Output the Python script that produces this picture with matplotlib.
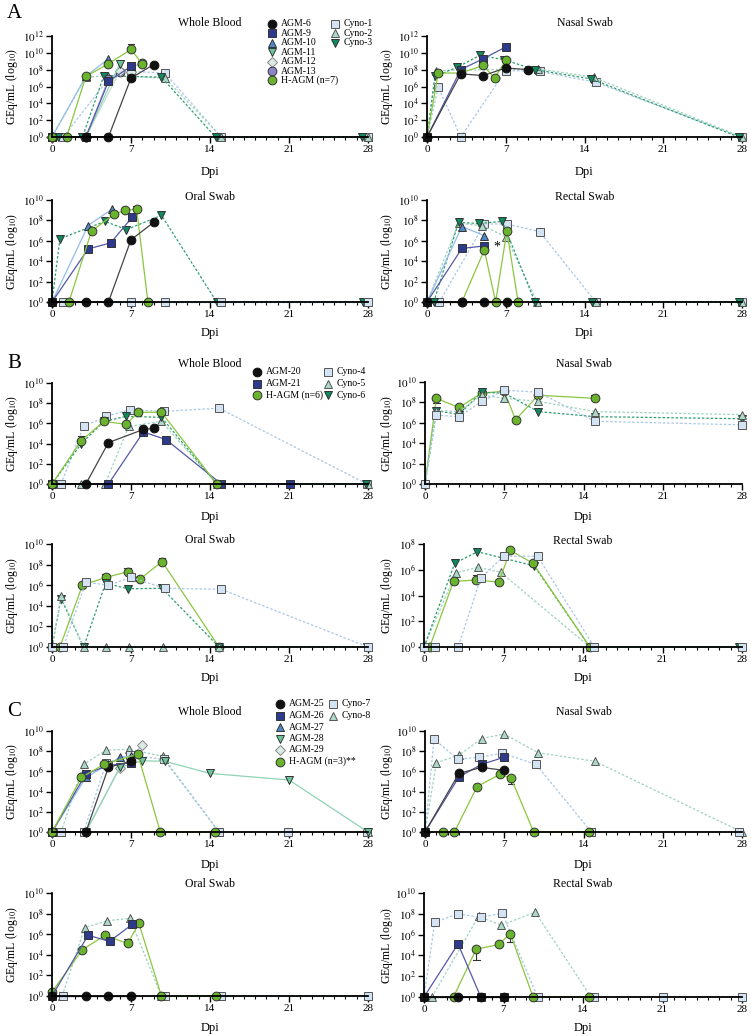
import matplotlib
matplotlib.use('Agg')
import matplotlib.pyplot as plt
from matplotlib.ticker import FixedLocator, MultipleLocator, NullLocator

plt.rcParams['font.family'] = ['Liberation Serif', 'DejaVu Serif']
plt.rcParams['mathtext.fontset'] = 'stix'

W, H = 751, 1036

# days post infection -> log10 GEq/mL (0 = below detection)
A_WB = {
    'Cyno-1': ([1, 5, 7, 10, 15, 28], [0, 6.9, 7.8, 7.6, 0, 0]),
    'Cyno-2': ([0, 3, 5, 7, 10, 15, 28], [0, 7.1, 7.3, 7.2, 7.0, 0, 0]),
    'Cyno-3': ([0.5, 2.7, 4.6, 7, 9.7, 14.5, 27.5], [0, 0, 7.3, 7.2, 7.1, 0, 0]),
    'AGM-13': ([0, 3, 5, 6, 8], [0, 0, 6.9, 7.7, 8.8]),
    'AGM-12': ([0, 3, 6, 7], [0, 0, 7.8, 7.7]),
    'AGM-11': ([0, 3, 6], [0, 0, 8.7]),
    'AGM-10': ([0, 3, 5], [0, 7.2, 9.3]),
    'AGM-9': ([0, 3, 5, 7], [0, 0, 6.6, 8.4]),
    'AGM-6': ([0, 3, 5, 7, 9], [0, 0, 0, 7.0, 8.6]),
    'H-AGM': ([0, 1.3, 3, 5, 7, 8], [0, 0, 7.2, 8.7, 10.4, 8.7]),
}
A_WB_ERR = ([7], [0.6])

A_NS = {
    'Cyno-1': ([0, 1, 3, 7, 10, 15, 28], [0, 5.9, 0, 7.9, 7.8, 6.5, 0]),
    'Cyno-2': ([0, 0.8, 9.9, 14.8, 28], [0, 7.9, 8.1, 7.1, 0]),
    'Cyno-3': ([0, 0.7, 2.7, 4.7, 6.8, 9.6, 14.6, 27.7], [0, 7.2, 8.3, 9.7, 9.2, 8.0, 6.9, 0]),
    'AGM-9': ([0, 3, 5, 7], [0, 8.0, 9.3, 10.7]),
    'H-AGM': ([0, 1, 3, 5, 6, 7], [0, 7.6, 7.6, 8.5, 7.0, 9.1]),
    'AGM-6': ([0, 3, 5, 7, 9], [0, 7.5, 7.3, 8.2, 8.0]),
}
A_NS_ERR = ([], [])

A_OS = {
    'Cyno-2': ([1, 7, 10, 15, 28], [0, 0, 0, 0, 0]),
    'Cyno-3': ([0, 0.7, 4.7, 6.6, 9.7, 14.6, 27.6], [0, 6.2, 7.9, 7.1, 8.5, 0, 0]),
    'Cyno-1': ([1, 7, 10, 15, 28], [0, 0, 0, 0, 0]),
    'AGM-10': ([0, 3.2, 5.3], [0, 7.5, 9.1]),
    'AGM-9': ([0, 3.2, 5.2, 7.1], [0, 5.2, 5.8, 8.3]),
    'H-AGM': ([0, 1.5, 3.5, 5.5, 6.5, 7.5, 8.5], [0, 0, 6.95, 8.6, 9.0, 9.1, 0]),
    'AGM-6': ([0, 3, 5, 7, 9], [0, 0, 0, 6.1, 7.8]),
}
A_OS_ERR = ([7.5], [0.3])

A_RS = {
    'Cyno-1': ([1.1, 5.1, 7.1, 10, 15, 28], [0, 7.65, 7.65, 6.9, 0, 0]),
    'Cyno-2': ([0, 2.8, 4.9, 7, 9.8, 15, 28], [0, 7.7, 7.5, 6.4, 0, 0, 0]),
    'Cyno-3': ([0.6, 2.8, 4.6, 6.7, 9.6, 14.7, 27.7], [0, 7.8, 7.7, 7.9, 0, 0, 0]),
    'AGM-10': ([0, 3.1, 5.1], [0, 7.4, 6.5]),
    'AGM-9': ([0, 3.1, 5.1], [0, 5.25, 5.5]),
    'H-AGM': ([0, 3.1, 5.1, 6.1, 7.1, 8.1], [0, 0, 5.1, 0, 6.95, 0]),
    'AGM-6': ([0, 3.1, 5.1, 7.1], [0, 0, 0, 0]),
}
A_RS_ERR = ([], [])

B_WB = {
    'Cyno-4': ([0.8, 2.8, 4.8, 6.9, 9.9, 14.8, 27.9], [0, 5.7, 6.7, 7.35, 7.2, 7.5, 0]),
    'Cyno-5': ([2.6, 4.7, 6.8, 9.7, 14.6, 28], [0, 0, 5.7, 6.2, 0, 0]),
    'Cyno-6': ([0, 2.6, 4.6, 6.6, 9.7, 14.6, 27.8], [0, 4.0, 6.2, 6.7, 6.6, 0, 0]),
    'AGM-21': ([0, 5, 8.1, 10.1, 15, 21.1], [0, 0, 5.15, 4.4, 0, 0]),
    'AGM-20': ([0, 3, 5, 8.1, 9], [0, 0, 4.1, 5.4, 5.5]),
    'H-AGM': ([0, 2.6, 4.6, 6.6, 7.6, 9.7, 14.6], [0, 4.3, 6.2, 5.9, 7.1, 7.1, 0]),
}
B_WB_ERR = ([2.6], [0.5])

B_NS = {
    'H-AGM': ([0, 1, 3, 5, 7, 8, 10, 15], [0, 8.4, 7.5, 8.9, 9.1, 6.3, 8.7, 8.4]),
    'Cyno-6': ([0, 1, 3, 5, 7, 10, 15, 28], [0, 7.2, 6.8, 9.0, 8.9, 7.1, 6.6, 6.4]),
    'Cyno-5': ([0, 1, 3, 5, 7, 10, 15, 28], [0, 7.2, 7.1, 8.7, 8.4, 8.1, 7.1, 6.8]),
    'Cyno-4': ([0, 1, 3, 5, 7, 10, 15, 28], [0, 6.75, 6.6, 8.1, 9.2, 9.0, 6.15, 5.8]),
}
B_NS_ERR = ([1, 15], [-0.5, 0.3])

B_OS = {
    'H-AGM': ([0, 0.7, 2.7, 4.75, 6.7, 7.8, 9.75, 14.8], [0, 0, 6.0, 6.75, 7.3, 6.6, 8.3, 0]),
    'Cyno-6': ([0, 0.8, 2.8, 4.75, 6.7, 9.75, 14.8, 27.9], [0, 4.7, 0, 6.2, 5.65, 5.7, 0, 0]),
    'Cyno-5': ([0, 0.8, 2.8, 4.8, 6.8, 9.8, 14.8, 28], [0, 4.95, 0, 0, 0, 0, 0, 0]),
    'Cyno-4': ([0, 1, 3, 5, 7, 10, 15, 28], [0, 0, 6.3, 6.0, 6.75, 5.7, 5.6, 0]),
}
B_OS_ERR = ([4.75, 6.7, 9.75], [0.3, 0.4, 0.3])

B_RS = {
    'Cyno-5': ([0, 2.8, 4.75, 6.75, 14.6, 28], [0, 5.75, 6.2, 5.8, 0, 0]),
    'Cyno-6': ([0, 2.7, 4.7, 9.7, 14.6, 27.7], [0, 6.5, 7.4, 6.3, 0, 0]),
    'H-AGM': ([0, 0.5, 2.6, 4.6, 6.6, 7.6, 9.6, 14.6], [0, 0, 5.1, 5.2, 5.05, 7.5, 6.5, 0]),
    'Cyno-4': ([0, 1, 3, 5, 7, 10, 15, 28], [0, 0, 0, 5.35, 7.05, 7.05, 0, 0]),
}
B_RS_ERR = ([4.6], [0.4])

C_WB = {
    'Cyno-8': ([0.8, 2.8, 4.8, 6.8, 9.8, 14.8, 28], [0, 6.7, 8.1, 8.2, 7.5, 0, 0]),
    'Cyno-7': ([0.8, 2.8, 4.8, 6.9, 9.9, 14.8, 20.9, 27.9], [0, 0, 6.85, 7.6, 7.2, 0, 0, 0]),
    'AGM-29': ([0, 3, 6, 8], [0, 0, 6.3, 8.6]),
    'AGM-28': ([0, 3, 6, 8, 10, 14, 21, 28], [0, 0, 6.4, 7.05, 7.0, 5.8, 5.15, 0]),
    'AGM-27': ([0, 3, 5, 6, 7], [0, 5.4, 6.7, 7.4, 7.5]),
    'AGM-26': ([0, 3, 5, 7], [0, 5.75, 6.6, 6.85]),
    'AGM-25': ([0, 3, 5, 7], [0, 0, 6.4, 7.0]),
    'H-AGM': ([0, 2.6, 4.6, 7.6, 9.6, 14.4], [0, 5.4, 6.7, 7.7, 0, 0]),
}
C_WB_ERR = ([], [])

C_NS = {
    'Cyno-8': ([0, 1, 3, 5, 7, 10, 15, 28], [0, 6.85, 7.6, 9.25, 9.7, 7.85, 7.0, 0]),
    'Cyno-7': ([0, 0.8, 2.9, 4.8, 6.8, 9.8, 14.7, 27.7], [0, 9.2, 7.2, 7.4, 7.8, 6.7, 0, 0]),
    'H-AGM': ([0, 1.6, 2.6, 4.6, 6.6, 7.6, 9.6, 14.5], [0, 0, 0, 4.5, 5.7, 5.35, 0, 0]),
    'AGM-26': ([0, 3, 5, 7], [0, 5.45, 6.7, 7.4]),
    'AGM-25': ([0, 3, 5, 7], [0, 5.8, 6.4, 6.1]),
}
C_NS_ERR = ([7.6], [-0.6])

C_OS = {
    'Cyno-8': ([0.9, 2.9, 4.9, 6.9, 9.7, 15, 28], [0, 6.65, 7.3, 7.55, 0, 0, 0]),
    'Cyno-7': ([1, 10, 15, 28], [0, 0, 0, 0]),
    'H-AGM': ([0, 2.7, 4.7, 6.7, 7.7, 9.7, 14.5], [0.4, 4.5, 5.9, 5.1, 7.05, 0, 0]),
    'AGM-26': ([0, 3.2, 5.1, 7.1], [0, 5.9, 5.3, 6.95]),
    'AGM-25': ([0, 3, 5, 7], [0, 0, 0, 0]),
}
C_OS_ERR = ([2.7, 6.7, 7.7], [0.3, 0.4, 0.2])

C_RS = {
    'Cyno-8': ([0.7, 4.8, 6.8, 9.8, 14.7], [0, 7.75, 6.9, 8.15, 0]),
    'Cyno-7': ([0, 0.95, 3, 5, 6.9, 10, 15, 21, 28], [0, 7.2, 8.0, 7.65, 8.05, 0, 0, 0, 0]),
    'H-AGM': ([2.6, 4.6, 6.6, 7.6, 9.6, 14.5], [0, 4.6, 5.05, 6.1, 0, 0]),
    'AGM-26': ([0, 3, 5, 7], [0, 5.1, 0, 0]),
    'AGM-25': ([0, 3, 5, 7], [0, 0, 0, 0]),
}
C_RS_ERR = ([4.6, 7.6], [-1.0, -0.8])

LEGEND_A_AGM = ['AGM-6', 'AGM-9', 'AGM-10', 'AGM-11', 'AGM-12', 'AGM-13', 'H-AGM']
LEGEND_A_CYNO = ['Cyno-1', 'Cyno-2', 'Cyno-3']
LEGEND_B_AGM = ['AGM-20', 'AGM-21', 'H-AGM']
LEGEND_B_CYNO = ['Cyno-4', 'Cyno-5', 'Cyno-6']
LEGEND_C_AGM = ['AGM-25', 'AGM-26', 'AGM-27', 'AGM-28', 'AGM-29', 'H-AGM']
LEGEND_C_CYNO = ['Cyno-7', 'Cyno-8']


def style_for(name):
    edge = '#333333'
    if name in ('AGM-6', 'AGM-20', 'AGM-25'):
        return dict(marker='o', mfc='#111111', mec='#111111', color='#444444', ls='-')
    if name in ('AGM-9', 'AGM-21', 'AGM-26'):
        return dict(marker='s', mfc='#2e3a8c', mec=edge, color='#5458a8', ls='-')
    if name in ('AGM-10', 'AGM-27'):
        return dict(marker='^', mfc='#4f86c6', mec=edge, color='#92bde8', ls='-')
    if name in ('AGM-11', 'AGM-28'):
        return dict(marker='v', mfc='#6cc49a', mec=edge, color='#8fd3b5', ls='-')
    if name in ('AGM-12', 'AGM-29'):
        return dict(marker='D', mfc='#dcebe6', mec='#888888', color='#c8dcd6', ls='-', ms=5)
    if name == 'AGM-13':
        return dict(marker='o', mfc='#8c86c8', mec=edge, color='#b5b0dd', ls='-')
    if name == 'H-AGM':
        return dict(marker='o', mfc='#6ab42d', mec=edge, color='#8cc63f', ls='-')
    if name in ('Cyno-1', 'Cyno-4', 'Cyno-7'):
        return dict(marker='s', mfc='#d3e3f3', mec='#555555', color='#a9c8e8', ls=(0, (2, 1.5)))
    if name in ('Cyno-2', 'Cyno-5', 'Cyno-8'):
        return dict(marker='^', mfc='#acd9c9', mec='#555555', color='#9fd3bf', ls=(0, (2, 1.5)))
    return dict(marker='v', mfc='#0f8a5f', mec=edge, color='#2f9e6f', ls=(0, (2, 1.5)))


def px_box(left, top, right, bottom):
    return [left / W, 1 - bottom / H, (right - left) / W, (bottom - top) / H]


def draw_panel(fig, data, err, title, box, ymax, title_y, dpi_y):
    left, top, right, bottom = box
    ax = fig.add_axes(px_box(left, top, right, bottom))
    ax.set_yscale('log')
    for name, (xs, ys) in data.items():
        st = style_for(name)
        ms = st.pop('ms', 6.3)
        ax.plot(xs, [10 ** v for v in ys], lw=0.9, ms=ms, mew=0.7, clip_on=False,
                **st)
    # error bars of the H-AGM group mean
    xs, ys = data['H-AGM']
    for ex, ev in zip(*err):
        yv = ys[xs.index(ex)]
        y2 = 10 ** (yv + ev)
        ax.plot([ex, ex], [10 ** yv, y2], color='#333333', lw=0.8, zorder=1)
        ax.plot([ex - 0.3, ex + 0.3], [y2, y2], color='#333333', lw=0.8, zorder=1)
    ax.set_xlim(0, 28)
    ax.set_ylim(1, 10 ** ymax)
    ax.xaxis.set_major_locator(FixedLocator([0, 7, 14, 21, 28]))
    ax.xaxis.set_minor_locator(MultipleLocator(1))
    ax.yaxis.set_major_locator(FixedLocator([10 ** k for k in range(0, ymax + 1, 2)]))
    ax.yaxis.set_minor_locator(NullLocator())
    ax.set_yticklabels(['$10^{%d}$' % k for k in range(0, ymax + 1, 2)])
    ax.tick_params(axis='both', which='major', labelsize=8, length=4, width=1,
                   direction='out', pad=2)
    ax.tick_params(axis='x', which='minor', length=2, width=0.8)
    for s in ('top', 'right'):
        ax.spines[s].set_visible(False)
    for s in ('left', 'bottom'):
        ax.spines[s].set_linewidth(1.3)
    cx = (left + right) / 2
    fig.text(cx / W, 1 - title_y / H, title, ha='center', va='center', fontsize=8.5)
    fig.text(cx / W, 1 - dpi_y / H, 'Dpi', ha='center', va='center', fontsize=9)
    lab_x = 12 if left < 200 else 387
    fig.text(lab_x / W, 1 - ((top + bottom) / 2) / H, 'GEq/mL (log$_{10}$)',
             rotation=90, ha='center', va='center', fontsize=8.5)
    return ax


def draw_legend(ov, names, x, y0, dy, extra=None):
    for i, name in enumerate(names):
        st = style_for(name)
        ms = st.pop('ms', 6.3)
        st.pop('ls')
        st.pop('color')
        y = y0 + i * dy
        ov.plot([x], [y], ls='none', ms=ms, mew=0.7, **st)
        label = name
        if extra and name in extra:
            label = extra[name]
        ov.text(x + 9, y, label, ha='left', va='center', fontsize=7)


fig = plt.figure(figsize=(W / 100, H / 100), dpi=100)

panels = [
    (A_WB, A_WB_ERR, 'Whole Blood', (52, 36, 368, 137), 12, 23, 172),
    (A_NS, A_NS_ERR, 'Nasal Swab', (427, 36, 742, 137), 12, 23, 172),
    (A_OS, A_OS_ERR, 'Oral Swab', (52, 200, 368, 302), 10, 197, 333),
    (A_RS, A_RS_ERR, 'Rectal Swab', (427, 200, 742, 302), 10, 197, 333),
    (B_WB, B_WB_ERR, 'Whole Blood', (52, 383, 368, 484), 10, 364, 517),
    (B_NS, B_NS_ERR, 'Nasal Swab', (425, 382, 742, 484), 10, 364, 517),
    (B_OS, B_OS_ERR, 'Oral Swab', (52, 544, 368, 647), 10, 540, 678),
    (B_RS, B_RS_ERR, 'Rectal Swab', (424, 544, 742, 647), 8, 541, 678),
    (C_WB, C_WB_ERR, 'Whole Blood', (52, 731, 368, 832), 10, 712, 865),
    (C_NS, C_NS_ERR, 'Nasal Swab', (425, 731, 742, 832), 10, 712, 865),
    (C_OS, C_OS_ERR, 'Oral Swab', (52, 893, 368, 996), 10, 884, 1028),
    (C_RS, C_RS_ERR, 'Rectal Swab', (424, 893, 742, 997), 10, 884, 1028),
]
axes = [draw_panel(fig, *p) for p in panels]

# significance mark next to AGM-9 in panel A rectal swab
axes[3].text(5.9, 10 ** 5.4, '*', fontsize=10, ha='left', va='center')

ov = fig.add_axes([0, 0, 1, 1])
ov.set_xlim(0, W)
ov.set_ylim(H, 0)
ov.axis('off')

draw_legend(ov, LEGEND_A_AGM, 272, 24, 9.4, {'H-AGM': 'H-AGM (n=7)'})
draw_legend(ov, LEGEND_A_CYNO, 335, 24, 9.4)
draw_legend(ov, LEGEND_B_AGM, 257, 372, 11.5, {'H-AGM': 'H-AGM (n=6)'})
draw_legend(ov, LEGEND_B_CYNO, 328, 372, 11.5)
draw_legend(ov, LEGEND_C_AGM, 280, 704, 11.5, {'H-AGM': 'H-AGM (n=3)**'})
draw_legend(ov, LEGEND_C_CYNO, 333, 704, 11.5)

for letter, y in (('A', 13), ('B', 364), ('C', 711)):
    ov.text(14, y, letter, ha='center', va='center', fontsize=15)

fig.savefig('out.png', dpi=100)
